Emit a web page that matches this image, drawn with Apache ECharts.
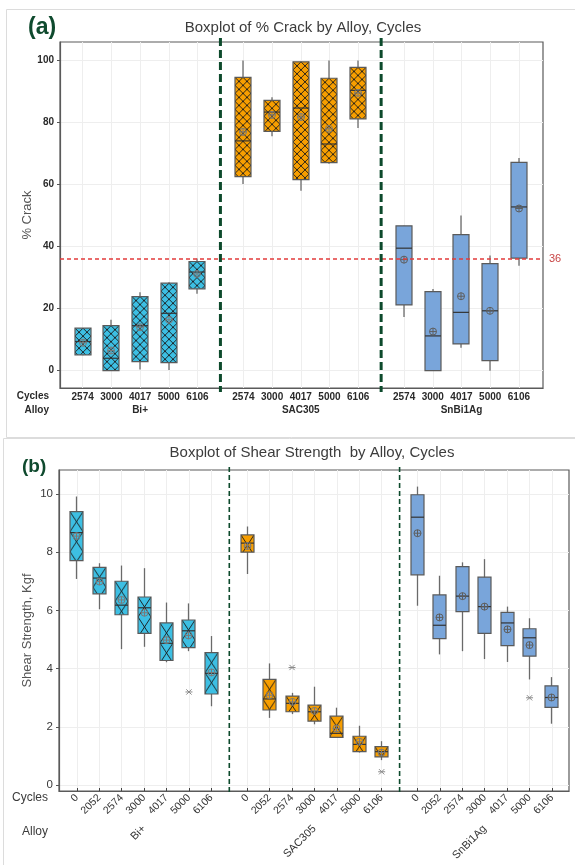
<!DOCTYPE html>
<html>
<head>
<meta charset="utf-8">
<script src="https://cdn.jsdelivr.net/npm/echarts@6/dist/echarts.min.js"></script>
<style>
  html, body { margin: 0; padding: 0; background: #fff; }
  #main { width: 575px; height: 865px; }
</style>
</head>
<body>
<div id="main"></div>
<script>
// --- data ---
const alloys = ['Bi+', 'SAC305', 'SnBi1Ag'];
const crackCycles = ['2574', '3000', '4017', '5000', '6106'];
const shearCycles = ['0', '2052', '2574', '3000', '4017', '5000', '6106'];

// (a) % Crack, order: Bi+ x5, SAC305 x5, SnBi1Ag x5
const crackMin  = [5.0, 0.0, 0.4, 0.2, 24.8, 60.2, 75.6, 58.0, 66.7, 78.3, 17.3, 0.0, 7.4, 0.0, 33.8];
const crackQ1   = [5.1, 0.0, 2.9, 2.6, 26.4, 62.6, 77.2, 61.6, 67.1, 81.2, 21.2, 0.0, 8.6, 3.2, 36.3];
const crackMed  = [9.4, 4.0, 14.5, 18.5, 31.8, 74.1, 83.4, 84.7, 73.1, 90.4, 39.5, 11.2, 18.8, 19.3, 52.8];
const crackQ3   = [13.7, 14.5, 23.9, 28.2, 35.2, 94.6, 87.2, 99.6, 94.3, 97.8, 46.7, 25.5, 43.9, 34.5, 67.2];
const crackMax  = [13.7, 16.4, 25.3, 28.5, 36.2, 100, 88.2, 99.6, 100, 100, 46.7, 26.3, 50.0, 37.1, 68.6];
const crackMean = [9.0, 6.5, 14.0, 16.4, 31.2, 77.0, 82.5, 81.8, 78.0, 89.6, 35.8, 12.6, 24.0, 19.3, 52.3];
const crackRef = 36;

// (b) Shear strength, order: Bi+ x7, SAC305 x7, SnBi1Ag x7
const shearMin  = [7.08, 6.04, 4.67, 4.75, 4.22, 4.60, 2.71, 7.25, 2.31, 2.44, 2.09, 1.64, 1.12, 0.86, 6.16, 4.49, 4.60, 4.33, 4.23, 3.63, 2.11];
const shearQ1   = [7.71, 6.57, 5.85, 5.21, 4.28, 4.72, 3.13, 8.00, 2.58, 2.52, 2.20, 1.64, 1.15, 0.97, 7.22, 5.03, 5.96, 5.21, 4.79, 4.43, 2.67];
const shearMed  = [8.67, 7.11, 6.18, 6.09, 4.87, 5.30, 3.84, 8.31, 2.96, 2.81, 2.52, 1.78, 1.40, 1.15, 9.20, 5.49, 6.49, 6.13, 5.57, 5.06, 3.01];
const shearQ3   = [9.39, 7.48, 7.00, 6.46, 5.57, 5.67, 4.55, 8.59, 3.63, 3.06, 2.75, 2.37, 1.68, 1.32, 9.97, 6.53, 7.50, 7.14, 5.93, 5.37, 3.41];
const shearMax  = [9.91, 7.62, 7.54, 7.45, 6.27, 6.24, 5.12, 8.88, 4.18, 3.17, 3.38, 2.66, 2.04, 1.51, 10.25, 7.19, 7.65, 7.76, 6.13, 5.73, 3.71];
const shearMean = [8.55, 6.99, 6.36, 5.92, 4.98, 5.14, 3.87, 8.21, 3.09, 2.86, 2.55, 1.95, 1.49, 1.12, 8.65, 5.76, 6.49, 6.13, 5.35, 4.81, 3.01];
// [box index, value]
const shearOutliers = [[5, 3.20], [9, 4.04], [13, 0.46], [19, 3.00]];

const crackTicks = [0, 20, 40, 60, 80, 100];
const shearTicks = [0, 2, 4, 6, 8, 10];

// --- layout helpers ---
const boxColors = ['#3dbfe3', '#f79e00', '#79a5da'];
const FONT = 'Liberation Sans, Arial, sans-serif';
const BOX_W = 0.58;
const crackGap = 5.6, shearGap = 7.6;
const crackPos = i => (i % 5) + Math.floor(i / 5) * crackGap;
const shearPos = i => (i % 7) + Math.floor(i / 7) * shearGap;

const crackPositions = crackMed.map((_, i) => crackPos(i));
const shearPositions = shearMed.map((_, i) => shearPos(i));
const crackGroupMid = alloys.map((_, g) => 2 + g * crackGap);
const shearGroupMid = alloys.map((_, g) => 3 + g * shearGap);
// dashed separators sit halfway between the groups
const crackDividers = [0, 1].map(g => [g * crackGap + 4 + (crackGap - 4) / 2]);
const shearDividers = [0, 1].map(g => [g * shearGap + 6 + (shearGap - 6) / 2]);

function labelAt(positions, labels, n) {
  return v => {
    const i = positions.findIndex(p => Math.abs(p - v) < 1e-6);
    return i < 0 ? '' : labels[i % n];
  };
}

const patternCache = {};
function hatch(color, w, h) {
  const key = color + '_' + w + '_' + h;
  if (patternCache[key]) return patternCache[key];
  const c = document.createElement('canvas');
  c.width = w; c.height = h;
  const ctx = c.getContext('2d');
  ctx.fillStyle = color;
  ctx.fillRect(0, 0, w, h);
  ctx.strokeStyle = 'rgba(25,25,25,0.9)';
  ctx.lineWidth = 1;
  ctx.beginPath();
  ctx.moveTo(-w, -h); ctx.lineTo(2 * w, 2 * h);
  ctx.moveTo(2 * w, -h); ctx.lineTo(-w, 2 * h);
  ctx.stroke();
  patternCache[key] = { image: c, repeat: 'repeat' };
  return patternCache[key];
}

// tiles: number of hatch columns across the box, tile height in px
function makeBoxRenderer(tiles, tileH) {
  return function (params, api) {
    const x = api.value(0);
    const g = api.value(7);
    const cMin = api.coord([x, api.value(1)]);
    const cQ1 = api.coord([x, api.value(2)]);
    const cMed = api.coord([x, api.value(3)]);
    const cQ3 = api.coord([x, api.value(4)]);
    const cMax = api.coord([x, api.value(5)]);
    const cMean = api.coord([x, api.value(6)]);
    const w = tiles * Math.round(api.size([BOX_W, 0])[0] / tiles);
    const left = Math.round(cQ3[0] - w / 2);
    const cx = left + w / 2;
    const top = cQ3[1];
    const h = Math.max(cQ1[1] - cQ3[1], 1);
    const fill = g < 2 ? hatch(boxColors[g], w / tiles, tileH) : boxColors[g];
    const r = 3.5;
    const meanCol = g < 2 ? '#7a7a7a' : '#5e5e5e';
    return {
      type: 'group',
      children: [
        { type: 'line', shape: { x1: cx, y1: cMax[1], x2: cx, y2: cMin[1] },
          style: { stroke: '#6a6a6a', lineWidth: 1.3 } },
        { type: 'rect', x: left, y: top, shape: { x: 0, y: 0, width: w, height: h },
          style: { fill: fill, stroke: '#5a5a5a', lineWidth: 1.2 } },
        { type: 'line', shape: { x1: left, y1: cMed[1], x2: left + w, y2: cMed[1] },
          style: { stroke: '#333', lineWidth: 1.2 } },
        { type: 'circle', shape: { cx: cx, cy: cMean[1], r: r },
          style: { fill: 'none', stroke: meanCol, lineWidth: 1 } },
        { type: 'line', shape: { x1: cx - r, y1: cMean[1], x2: cx + r, y2: cMean[1] },
          style: { stroke: meanCol, lineWidth: 1 } },
        { type: 'line', shape: { x1: cx, y1: cMean[1] - r, x2: cx, y2: cMean[1] + r },
          style: { stroke: meanCol, lineWidth: 1 } }
      ]
    };
  };
}

function renderStar(params, api) {
  const p = api.coord([api.value(0), api.value(1)]);
  const s = 3.5, d = s * 0.75;
  const st = { stroke: '#8a8a8a', lineWidth: 1 };
  return {
    type: 'group',
    children: [
      { type: 'line', shape: { x1: p[0] - s, y1: p[1], x2: p[0] + s, y2: p[1] }, style: st },
      { type: 'line', shape: { x1: p[0] - d, y1: p[1] - d, x2: p[0] + d, y2: p[1] + d }, style: st },
      { type: 'line', shape: { x1: p[0] - d, y1: p[1] + d, x2: p[0] + d, y2: p[1] - d }, style: st }
    ]
  };
}

function makeDivider(width, dash, ext) {
  return function (params, api) {
    const cs = params.coordSys;
    const px = api.coord([api.value(0), 0])[0];
    return {
      type: 'line',
      shape: { x1: px, y1: cs.y - ext[0], x2: px, y2: cs.y + cs.height + ext[1] },
      style: { stroke: '#0d4a2c', lineWidth: width, lineDash: dash }
    };
  };
}

const crackBoxes = crackMed.map((_, i) => [crackPositions[i], crackMin[i], crackQ1[i], crackMed[i], crackQ3[i], crackMax[i], crackMean[i], Math.floor(i / 5)]);
const shearBoxes = shearMed.map((_, i) => [shearPositions[i], shearMin[i], shearQ1[i], shearMed[i], shearQ3[i], shearMax[i], shearMean[i], Math.floor(i / 7)]);
const shearOutPts = shearOutliers.map(o => [shearPositions[o[0]], o[1]]);

const gridLine = { show: true, lineStyle: { color: '#eeeeee', width: 1 } };
const frameLine = { show: true, onZero: false, lineStyle: { color: '#5a5a5a', width: 1.2 } };

const chart = echarts.init(document.getElementById('main'), null, { renderer: 'canvas' });
chart.setOption({
  animation: false,
  backgroundColor: '#fff',
  textStyle: { fontFamily: FONT },
  graphic: [
    { type: 'rect', shape: { x: 6.5, y: 9.5, width: 600, height: 428 }, style: { fill: 'none', stroke: '#dcdcdc', lineWidth: 1 }, silent: true },
    { type: 'rect', shape: { x: 3.5, y: 438.5, width: 600, height: 440 }, style: { fill: 'none', stroke: '#dcdcdc', lineWidth: 1 }, silent: true },
    { type: 'text', x: 28, y: 28, style: { text: '(a)', font: 'bold 23px ' + FONT, fill: '#0f4a2e', verticalAlign: 'middle' } },
    { type: 'text', x: 303, y: 28, style: { text: 'Boxplot of % Crack by Alloy, Cycles', font: '15px ' + FONT, fill: '#3c3c3c', textAlign: 'center', verticalAlign: 'middle' } },
    { type: 'text', x: 49, y: 396, style: { text: 'Cycles', font: 'bold 10px ' + FONT, fill: '#2a2a2a', textAlign: 'right', verticalAlign: 'middle' } },
    { type: 'text', x: 49, y: 410, style: { text: 'Alloy', font: 'bold 10px ' + FONT, fill: '#2a2a2a', textAlign: 'right', verticalAlign: 'middle' } },
    { type: 'text', x: 22, y: 467, style: { text: '(b)', font: 'bold 19px ' + FONT, fill: '#0f4a2e', verticalAlign: 'middle' } },
    { type: 'text', x: 312, y: 453, style: { text: 'Boxplot of Shear Strength  by Alloy, Cycles', font: '15px ' + FONT, fill: '#3c3c3c', textAlign: 'center', verticalAlign: 'middle' } },
    { type: 'text', x: 48, y: 798, style: { text: 'Cycles', font: '12px ' + FONT, fill: '#3a3a3a', textAlign: 'right', verticalAlign: 'middle' } },
    { type: 'text', x: 48, y: 832, style: { text: 'Alloy', font: '12px ' + FONT, fill: '#3a3a3a', textAlign: 'right', verticalAlign: 'middle' } }
  ],
  grid: [
    { left: 60, right: 32, top: 42, height: 346, show: true, borderColor: '#5a5a5a', borderWidth: 1.2 },
    { left: 59, right: 6, top: 470, height: 321, show: true, borderColor: '#5a5a5a', borderWidth: 1.2 }
  ],
  xAxis: [
    { type: 'value', gridIndex: 0, min: -0.79, max: 16.04, position: 'bottom',
      axisLine: frameLine,
      axisTick: { show: false, customValues: crackPositions },
      axisLabel: { customValues: crackPositions, formatter: labelAt(crackPositions, crackCycles, 5),
        margin: 4, fontSize: 10, fontWeight: 'bold', color: '#2a2a2a' },
      splitLine: gridLine },
    { type: 'value', gridIndex: 0, min: -0.79, max: 16.04, position: 'bottom',
      axisLine: { show: false }, axisTick: { show: false }, splitLine: { show: false },
      axisLabel: { customValues: crackGroupMid, formatter: labelAt(crackGroupMid, alloys, 3),
        margin: 17, fontSize: 10, fontWeight: 'bold', color: '#2a2a2a' } },
    { type: 'value', gridIndex: 1, min: -0.80, max: 21.96, position: 'bottom',
      axisLine: frameLine,
      axisTick: { show: true, inside: true, length: 3, customValues: shearPositions, lineStyle: { color: '#444' } },
      axisLabel: { customValues: shearPositions, formatter: labelAt(shearPositions, shearCycles, 7),
        rotate: 45, margin: 5, fontSize: 10.5, color: '#333' },
      splitLine: gridLine },
    { type: 'value', gridIndex: 1, min: -0.80, max: 21.96, position: 'bottom',
      axisLine: { show: false }, axisTick: { show: false }, splitLine: { show: false },
      axisLabel: { customValues: shearGroupMid, formatter: labelAt(shearGroupMid, alloys, 3),
        rotate: 45, margin: 36, fontSize: 11, color: '#333' } }
  ],
  yAxis: [
    { type: 'value', gridIndex: 0, min: -5.6, max: 106,
      name: '% Crack', nameLocation: 'middle', nameGap: 26, nameMoveOverlap: false,
      nameTextStyle: { fontSize: 13, color: '#555' },
      axisLine: frameLine,
      axisTick: { show: true, length: 3, customValues: crackTicks, lineStyle: { color: '#555' } },
      axisLabel: { customValues: crackTicks, fontSize: 10, fontWeight: 'bold', color: '#2a2a2a', margin: 6 },
      splitLine: gridLine },
    { type: 'value', gridIndex: 1, min: -0.2, max: 10.82,
      name: 'Shear Strength, Kgf', nameLocation: 'middle', nameGap: 25, nameMoveOverlap: false,
      nameTextStyle: { fontSize: 13, color: '#555' },
      axisLine: frameLine,
      axisTick: { show: true, length: 3, customValues: shearTicks, lineStyle: { color: '#555' } },
      axisLabel: { customValues: shearTicks, fontSize: 11.5, color: '#3a3a3a', margin: 6 },
      splitLine: gridLine }
  ],
  series: [
    { type: 'custom', name: 'crack', xAxisIndex: 0, yAxisIndex: 0,
      renderItem: makeBoxRenderer(2, 8), encode: { x: 0, y: [1, 2, 3, 4, 5] }, data: crackBoxes, z: 3 },
    { type: 'line', xAxisIndex: 0, yAxisIndex: 0, data: [], z: 5,
      markLine: { symbol: 'none', silent: true, z: 5,
        lineStyle: { color: '#e23b3b', type: [4, 3], width: 1.6 },
        label: { show: true, position: 'end', formatter: String(crackRef), color: '#c84545', fontSize: 11, distance: 6 },
        data: [{ yAxis: crackRef }] } },
    { type: 'custom', xAxisIndex: 0, yAxisIndex: 0, clip: false, z: 6,
      renderItem: makeDivider(3, [8, 4], [4, 4]), encode: { x: 0 }, data: crackDividers },
    { type: 'custom', name: 'shear', xAxisIndex: 2, yAxisIndex: 1,
      renderItem: makeBoxRenderer(1, 20), encode: { x: 0, y: [1, 2, 3, 4, 5] }, data: shearBoxes, z: 3 },
    { type: 'custom', xAxisIndex: 2, yAxisIndex: 1, renderItem: renderStar,
      encode: { x: 0, y: 1 }, data: shearOutPts, z: 4 },
    { type: 'custom', xAxisIndex: 2, yAxisIndex: 1, clip: false, z: 6,
      renderItem: makeDivider(1.6, [5, 3], [3, 2]), encode: { x: 0 }, data: shearDividers }
  ]
});
</script>
</body>
</html>
